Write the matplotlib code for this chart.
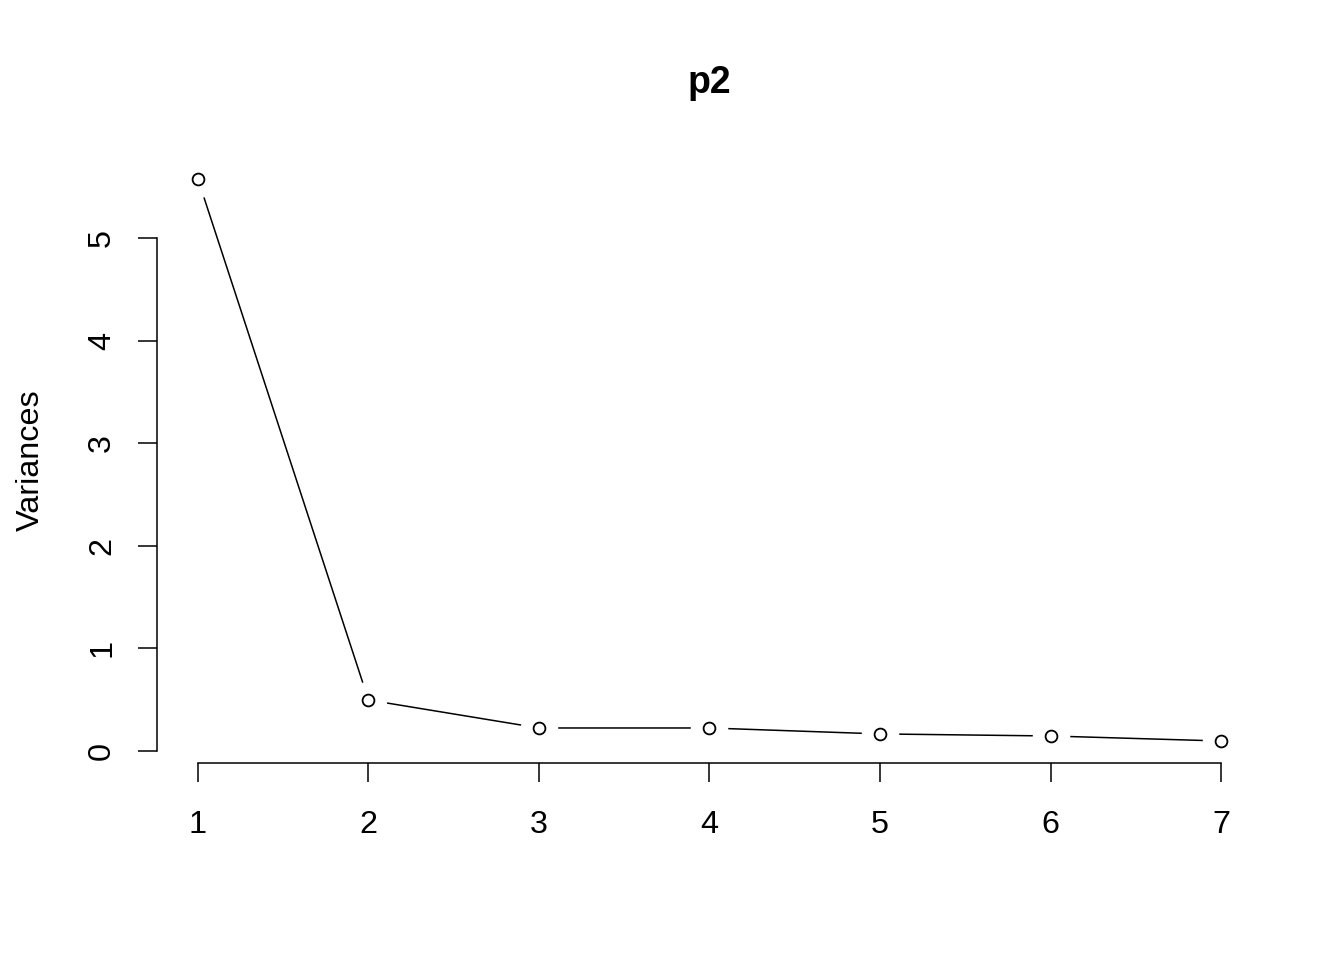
import numpy as np
import matplotlib
matplotlib.use('Agg')
import matplotlib.pyplot as plt

plt.rcParams['font.family'] = ['Liberation Sans', 'DejaVu Sans']

components = [1, 2, 3, 4, 5, 6, 7]
variances = [5.575, 0.497, 0.224, 0.224, 0.166, 0.146, 0.097]
x_ticks = [1, 2, 3, 4, 5, 6, 7]
y_ticks = [0, 1, 2, 3, 4, 5]

fig = plt.figure(figsize=(13.44, 9.6), dpi=100)
ax = fig.add_axes([0.1168, 0.2047, 0.939 - 0.1168, 0.837 - 0.2047])

# R-style limits: data range extended by 4%
xr = max(components) - min(components)
yr = max(variances) - min(variances)
ax.set_xlim(min(components) - 0.04 * xr, max(components) + 0.04 * xr)
ax.set_ylim(min(variances) - 0.04 * yr, max(variances) + 0.04 * yr)

# type="b": line with gaps around the points
ax.plot(components, variances, color='black', lw=1.1, zorder=1, clip_on=False)
ax.plot(components, variances, 'o', ms=27, mfc='white', mec='none', zorder=2, clip_on=False)
ax.plot(components, variances, 'o', ms=8.5, mfc='white', mec='black', mew=1.3, zorder=3, clip_on=False)

for s in ['top', 'right']:
    ax.spines[s].set_visible(False)
ax.spines['left'].set_bounds(min(y_ticks), max(y_ticks))
ax.spines['bottom'].set_bounds(min(x_ticks), max(x_ticks))
for s in ['left', 'bottom']:
    ax.spines[s].set_linewidth(1.1)

ax.set_xticks(x_ticks)
ax.set_yticks(y_ticks)
ax.tick_params(axis='both', direction='out', length=13.7, width=1.1, labelsize=23.3)
ax.tick_params(axis='x', pad=20)
ax.tick_params(axis='y', pad=15, labelrotation=90)
for lab in ax.get_yticklabels():
    lab.set_va('center')

ax.set_ylabel('Variances', fontsize=23.3, labelpad=30)
ax.set_title('p2', fontsize=27, fontweight='bold', pad=46)

fig.savefig('out.png', dpi=100)
